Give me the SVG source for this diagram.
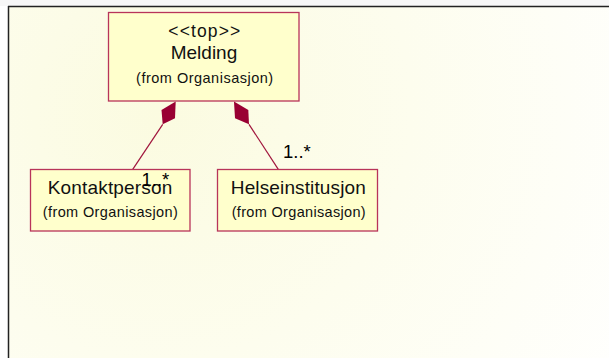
<svg xmlns="http://www.w3.org/2000/svg" width="609" height="358" viewBox="0 0 609 358">
  <style>
    .cls { fill: #ffffcc; stroke: #b8345a; stroke-width: 1.3; }
    .name { font-family: "Liberation Sans", Arial, sans-serif; font-size: 19px; fill: #111; text-anchor: middle; }
    .stereo { font-family: "Liberation Sans", Arial, sans-serif; font-size: 17.5px; fill: #111; text-anchor: middle; }
    .from { font-family: "Liberation Sans", Arial, sans-serif; font-size: 14.5px; fill: #111; text-anchor: middle; }
    .mult { font-family: "Liberation Sans", Arial, sans-serif; font-size: 18.5px; fill: #000; }
    .assoc { stroke: #a0143c; stroke-width: 1.2; fill: none; }
    .diamond { fill: #990033; stroke: none; }
  </style>
  <defs>
    <radialGradient id="paper" gradientUnits="userSpaceOnUse" cx="160" cy="110" r="560">
      <stop offset="0" stop-color="#fbfbe0"/>
      <stop offset="0.45" stop-color="#fdfdee"/>
      <stop offset="1" stop-color="#ffffff"/>
    </radialGradient>
  </defs>

  <!-- page background and diagram frame -->
  <rect x="0" y="0" width="609" height="358" fill="#ffffff"/>
  <rect x="0" y="0" width="609" height="6" fill="#f7f7f7"/>
  <rect x="9" y="7" width="600" height="351" fill="url(#paper)"/>
  <line x1="8" y1="6.5" x2="609" y2="6.5" stroke="#222" stroke-width="1.5"/>
  <line x1="8.5" y1="6" x2="8.5" y2="358" stroke="#222" stroke-width="1.5"/>

  <!-- composition links -->
  <g id="connectors">
    <line class="assoc" x1="162.7" y1="124.3" x2="132.7" y2="169.3"/>
    <polygon class="diamond" points="162.7,124.3 161.5,110 175.7,101.5 175,118.3"/>
    <line class="assoc" x1="249" y1="124.3" x2="278.3" y2="169.3"/>
    <polygon class="diamond" points="249,124.3 248.3,110 234,101.5 235,118.3"/>
  </g>

  <g id="Melding">
    <rect class="cls" x="108.5" y="12.5" width="190.5" height="88.5"/>
    <text class="stereo" x="204.3" y="36.5" textLength="72" lengthAdjust="spacing">&lt;&lt;top&gt;&gt;</text>
    <text class="name" x="204" y="58.5">Melding</text>
    <text class="from" x="204.6" y="82.5" textLength="137" lengthAdjust="spacing">(from Organisasjon)</text>
  </g>

  <g id="Kontaktperson">
    <rect class="cls" x="30.5" y="169.5" width="159.5" height="61.5"/>
    <text class="name" x="110" y="194" textLength="124.6" lengthAdjust="spacing">Kontaktperson</text>
    <text class="from" x="110.3" y="217" textLength="135" lengthAdjust="spacing">(from Organisasjon)</text>
  </g>

  <g id="Helseinstitusjon">
    <rect class="cls" x="217.5" y="169.5" width="160" height="61.5"/>
    <text class="name" x="298.3" y="194" textLength="135" lengthAdjust="spacing">Helseinstitusjon</text>
    <text class="from" x="298.7" y="217" textLength="134" lengthAdjust="spacing">(from Organisasjon)</text>
  </g>

  <!-- multiplicities -->
  <g id="labels">
    <text class="mult" x="141.5" y="186">1..*</text>
    <text class="mult" x="283" y="158.3">1..*</text>
  </g>
</svg>
